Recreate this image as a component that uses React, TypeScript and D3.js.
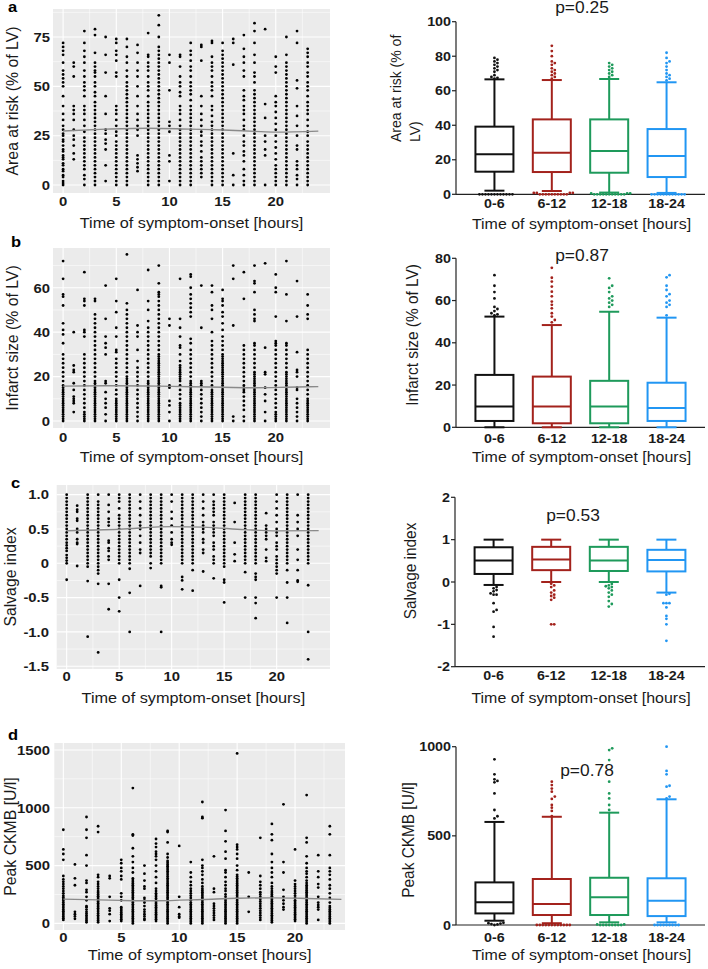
import React from "react";
import * as d3 from "d3";

// ---------------- DATA ----------------
const hours: number[] = [0,1,2,3,4,5,6,7,8,9,10,11,12,13,14,15,16,17,18,19,20,21,22,23];

const areaRiskByHour: number[][] = [
  [0,1,2,4,5,7,8,10,11,13,14,15,17,18,20,22,23,25,26,28,30,33,36,40,45,50,52,54,56,58,62,66,68,70,72],
  [13,16,20,23,25,28,33,36,38,40,55,60,62],
  [0,3,5,8,10,12,14,16,18,20,22,24,27,30,33,36,38,40,45,48,50,52,55,58,62,65,68,72,78],
  [0,2,4,6,8,10,12,14,16,18,20,22,24,26,28,30,32,34,36,38,40,42,45,47,50,52,55,57,58,60,62,67,76,79],
  [2,10,18,21,23,26,28,36,45,57,66,75],
  [0,2,4,6,8,10,12,14,16,18,20,22,25,27,30,33,36,38,40,55,57,63,66,68,72,74],
  [0,2,4,6,8,10,12,14,16,18,20,22,24,26,28,30,32,34,36,38,40,42,44,46,48,50,52,55,58,62,65,70,74],
  [7,9,11,13,15,25,28,30,33,36,40,45,50,55,58,62,67,71],
  [0,2,4,6,8,10,12,14,16,18,20,22,24,26,28,30,32,34,36,38,40,42,45,48,50,52,55,58,60,62,65,66,77],
  [0,2,4,6,8,10,12,14,16,18,20,22,24,26,28,30,32,34,36,38,40,42,44,46,48,50,52,54,56,58,60,62,64,66,68,70,75,81,86],
  [2,12,15,27,30,32,48,62,66],
  [0,2,4,6,8,10,12,14,16,18,20,22,24,26,28,30,33,36,38,40,45,47,50,52,55,60,65,66],
  [0,2,4,6,8,10,12,14,16,18,20,22,24,26,28,30,32,34,36,38,40,43,46,48,50,52,55,58,60,63,66,68,72],
  [4,6,8,10,12,14,17,20,22,25,27,30,33,36,40,45,63,70,71],
  [0,2,4,6,8,10,12,14,16,18,20,22,24,26,28,30,32,35,38,40,45,48,50,52,55,58,60,62,65,72,73],
  [0,2,4,6,8,10,12,14,16,18,20,22,24,26,28,30,32,34,36,38,40,42,44,46,48,50,52,54,56,58,60,62,64,66,68,72],
  [0,5,16,61,72,74],
  [0,2,5,8,12,15,17,20,22,25,28,30,33,36,38,40,43,45,48,55,58,62,65,69,76],
  [0,2,4,6,8,10,12,14,16,18,20,22,24,26,28,30,32,34,36,38,40,42,44,46,48,52,55,57,62,66,72,78,82],
  [0,15,18,22,25,34,41,79],
  [0,2,4,6,8,10,13,16,19,22,25,28,31,34,37,40,42,45,57,60,65],
  [0,2,4,6,8,10,12,14,16,18,20,22,24,26,28,30,32,34,36,38,40,42,44,46,48,50,52,54,56,58,60,62,66,75],
  [0,3,5,8,10,12,18,20,25,30,35,40,49,53,72,78],
  [0,2,4,6,8,10,12,14,16,18,20,22,25,27,30,33,36,38,40,42,45,48,50,52,55,57,60,62,65,67,69],
];

const infarctByHour: number[][] = [
  [0,1,2,3,4,5,6,7,8,9,10,11,12,13,14,15,16,18,20,22,24,26,28,30,35,39,41,44,52,56,57,64,72],
  [4,8,9,10,11,14,17,22,23,25,40],
  [0,1,2,3,4,6,8,10,12,14,16,18,20,22,24,26,28,30,38,40,41,52,54,55,67],
  [0,1,2,3,4,5,6,7,8,9,10,11,12,13,14,15,16,17,18,20,22,24,26,28,30,32,34,36,38,40,42,44,46,48,54,55],
  [0,3,6,8,10,13,17,18,30,33,35,38,46,61],
  [0,1,2,3,4,5,6,7,8,9,10,12,14,16,18,20,22,24,26,28,31,32,38,42,49,54,64],
  [0,1,2,3,4,5,6,7,8,9,10,11,12,13,14,15,16,17,18,19,20,22,24,26,28,30,32,34,36,38,40,42,44,46,48,50,53,75],
  [0,2,4,6,8,10,12,14,16,18,20,22,24,27,32,38,40,43,59],
  [0,1,2,3,4,5,6,7,8,9,10,11,12,13,14,15,16,17,18,20,22,24,26,28,30,32,34,36,38,40,42,45,50,54,68],
  [0,1,2,3,4,5,6,7,8,9,10,11,12,13,14,15,16,17,18,19,20,21,22,23,24,25,26,27,28,29,30,32,34,36,38,40,42,44,46,48,50,52,54,56,57,58,62,70],
  [0,4,7,9,15,16,43,46],
  [0,1,2,3,4,5,6,7,8,10,12,14,16,18,19,20,21,22,23,24,25,27,30,33,34,38,42,46,64],
  [0,1,2,3,4,5,6,7,8,9,10,11,12,13,14,15,16,17,18,20,22,24,26,28,30,32,35,37,47,49,51,53,55,57,60,65,66],
  [0,2,4,6,8,10,12,14,16,17,18,42,61],
  [0,1,2,3,4,5,6,7,8,9,10,11,12,13,14,16,18,20,22,24,26,28,30,32,34,36,40,46,50,52,58,61],
  [0,1,2,3,4,5,6,7,8,9,10,11,12,13,14,15,16,17,18,19,20,21,22,23,24,25,26,27,28,29,30,32,34,36,38,41,44,47,49,52,54,55,59],
  [0,2,43,64,70],
  [0,2,5,7,9,11,13,14,15,16,18,20,22,24,26,28,30,32,34,55,67],
  [0,1,2,3,4,5,6,7,8,9,10,11,12,13,14,15,16,17,18,19,20,21,22,24,26,28,30,32,34,35,45,46,48,50,58,62,63,70],
  [0,4,9,12,15,21,22,33,71],
  [0,1,2,3,4,6,8,10,12,14,16,18,20,22,24,26,28,30,32,34,35,36,47,58,60,66],
  [0,1,2,3,4,5,6,7,8,9,10,11,12,13,14,15,16,17,18,19,20,21,22,24,26,28,30,32,34,35,45,57,72],
  [0,2,4,6,8,10,14,15,20,22,23,31,47,63],
  [0,1,2,3,4,5,6,7,8,9,10,12,14,16,18,20,22,24,26,28,30,32,46,48,52,57],
];

const salvageByHour: number[][] = [
  [-0.24,0,0.04,0.08,0.12,0.18,0.22,0.26,0.3,0.35,0.4,0.45,0.5,0.55,0.6,0.65,0.7,0.75,0.8,0.85,0.9,0.95,1],
  [-0.04,0.28,0.3,0.35,0.45,0.5,0.62,0.65,0.75,0.78,0.84],
  [-1.07,-0.26,-0.05,0,0.05,0.1,0.15,0.2,0.25,0.3,0.35,0.4,0.45,0.5,0.55,0.6,0.65,0.7,0.75,0.8,0.85,0.9,0.95,1],
  [-1.3,-0.3,-0.15,-0.1,-0.05,0,0.05,0.1,0.15,0.2,0.25,0.3,0.35,0.4,0.45,0.5,0.55,0.6,0.65,0.7,0.75,0.8,0.85,0.9,1],
  [-0.67,-0.3,0.05,0.1,0.18,0.22,0.3,0.33,0.55,0.6,0.65,0.75,0.85,1],
  [-0.7,-0.5,-0.24,0,0.05,0.1,0.15,0.2,0.25,0.3,0.35,0.4,0.45,0.5,0.55,0.6,0.65,0.7,0.8,0.9,0.95,1],
  [-1,-0.43,-0.08,0,0.05,0.1,0.15,0.2,0.25,0.3,0.35,0.4,0.45,0.5,0.55,0.6,0.65,0.7,0.75,0.8,0.85,0.9,0.95,1],
  [-0.33,0.15,0.2,0.3,0.4,0.5,0.55,0.6,0.7,0.8,0.9,1],
  [-0.07,0,0.1,0.15,0.2,0.25,0.3,0.35,0.4,0.45,0.5,0.55,0.6,0.65,0.7,0.75,0.8,0.85,0.9,0.95,1],
  [-1,-0.35,-0.33,0,0.05,0.1,0.15,0.2,0.25,0.3,0.35,0.4,0.45,0.5,0.55,0.6,0.65,0.7,0.75,0.8,0.85,0.9,0.95,1],
  [0.27,0.3,0.35,0.45,0.55,0.65,0.75,0.9,1],
  [-0.38,-0.25,-0.2,0,0.05,0.1,0.15,0.2,0.25,0.3,0.35,0.4,0.45,0.5,0.55,0.6,0.65,0.7,0.75,0.8,0.85,0.9,0.95,1],
  [-0.4,-0.1,0,0.05,0.1,0.15,0.2,0.25,0.3,0.35,0.4,0.45,0.5,0.55,0.6,0.65,0.7,0.75,0.8,0.85,0.9,0.95,1],
  [-0.12,0.15,0.2,0.3,0.35,0.45,0.5,0.55,0.6,0.7,0.8,0.9,1],
  [-0.22,0,0.05,0.1,0.2,0.25,0.3,0.4,0.45,0.5,0.55,0.6,0.7,0.75,0.8,0.85,0.9,1],
  [-0.57,-0.28,-0.24,-0.05,0,0.05,0.1,0.15,0.2,0.25,0.3,0.35,0.4,0.45,0.5,0.55,0.6,0.65,0.7,0.75,0.8,0.85,0.9,0.95,1],
  [0.03,0.13,0.3,0.6,0.88],
  [-0.5,-0.13,0,0.05,0.1,0.15,0.2,0.25,0.3,0.35,0.4,0.45,0.5,0.55,0.6,0.65,0.7,0.75,0.8,0.85,0.9,0.95,1],
  [-0.8,-0.58,-0.5,-0.24,-0.2,-0.15,0,0.05,0.1,0.15,0.2,0.25,0.3,0.35,0.4,0.45,0.5,0.55,0.6,0.65,0.7,0.75,0.8,0.85,0.9,0.95,1],
  [0.03,0.08,0.2,0.35,0.4,0.45,0.5,0.55,0.73],
  [-0.5,-0.15,-0.1,-0.05,0,0.05,0.1,0.2,0.25,0.3,0.4,0.45,0.5,0.6,0.7,0.8,0.9,1],
  [-0.87,-0.5,-0.28,-0.1,0,0.05,0.1,0.15,0.2,0.25,0.3,0.35,0.4,0.45,0.5,0.55,0.6,0.65,0.7,0.75,0.8,0.85,0.9,0.95,1],
  [-0.27,-0.25,-0.1,0.05,0.2,0.4,0.5,0.6,0.7,1],
  [-1.4,-1,-0.32,0,0.05,0.1,0.15,0.2,0.25,0.3,0.35,0.4,0.45,0.5,0.55,0.6,0.65,0.7,0.75,0.8,0.85,0.9,0.95,1],
];

const ckmbByHour: number[][] = [
  [30,45,60,75,90,105,120,135,150,165,180,195,210,225,240,260,280,300,320,340,360,380,410,550,600,640,810],
  [40,60,80,100,330,390,510],
  [10,25,40,55,70,85,100,120,140,150,200,230,270,290,350,370,500,590,740,810,920],
  [10,25,40,55,70,85,100,115,130,145,160,175,190,205,220,235,250,265,280,300,320,340,360,400,420,790,840],
  [20,80,110,130,230,390,410],
  [20,35,50,65,80,95,110,125,140,200,230,260,380,410,450,480,520,550],
  [0,15,30,45,60,75,90,105,120,135,150,165,180,195,210,225,240,255,270,285,300,315,330,345,360,375,390,440,480,530,580,650,760,770,1170],
  [30,40,60,80,100,120,150,180,200,220,300,320,370,430,500],
  [20,35,50,65,80,95,110,125,140,155,170,185,200,215,230,245,260,280,300,350,400,450,500,550,580,600,620,660,690,730],
  [0,15,30,45,60,75,90,105,120,135,150,165,180,195,210,225,240,255,270,285,300,315,330,345,360,375,390,405,420,435,450,465,480,495,510,525,540,570,600,700,790,800],
  [50,60,80,140,230,670],
  [0,15,30,45,60,75,90,105,120,135,150,165,180,200,220,240,260,280,300,330,360,400,440,530],
  [0,15,30,45,60,75,90,105,120,135,150,165,180,195,210,225,240,255,270,285,300,320,350,380,420,450,480,500,550,910,920,1050],
  [30,50,70,90,110,130,150,170,270,300,580],
  [0,15,30,45,60,75,90,105,120,135,150,165,180,195,210,230,250,280,300,330,360,400,440,460,560,620,710,800,980],
  [0,15,30,45,60,75,90,105,120,135,150,165,180,195,210,225,240,255,270,285,300,315,330,345,360,375,390,405,420,460,500,560,600,640,660,680,1470],
  [100,230,440],
  [30,50,70,90,110,130,150,170,190,210,230,250,270,300,330,360,410,740],
  [10,25,40,55,70,85,100,115,130,145,160,175,190,205,220,235,250,265,280,300,320,350,400,440,480,530,600,720,770,860],
  [120,140,170,200,230,290,440,530,1030],
  [20,35,50,65,80,95,110,125,140,155,170,185,200,220,240,260,280,300,320,340,370,640],
  [0,15,30,45,60,75,90,105,120,135,150,165,180,195,210,225,240,255,270,285,300,315,330,350,370,400,430,450,480,520,580,700,740,1110],
  [30,120,140,160,180,230,310,340,400,450,590],
  [0,15,30,45,60,75,90,105,120,135,150,180,220,260,300,330,380,420,450,480,590,770,840],
];

// smoothed (loess) fits: [hour, value]
const areaRiskFit: [number, number][] = [[0,27.4],[4,28.3],[8,28.8],[12,28.3],[15,27.9],[18,27.2],[20,26.8],[24,27.3]];
const infarctFit: [number, number][] = [[0,15.7],[5,15.9],[9,15.7],[12,15.4],[15,15.2],[18,15.0],[21,15.2],[24,15.5]];
const salvageFit: [number, number][] = [[0,0.475],[5,0.495],[10,0.535],[13,0.527],[17,0.49],[20,0.472],[24,0.476]];
const ckmbFit: [number, number][] = [[0,210],[5,199],[8,196],[12,207],[15,218],[18,221],[21,216],[24,208]];

// box plot groups
const groups: string[] = ["0-6", "6-12", "12-18", "18-24"];
const groupColors: string[] = ["#111111", "#A3221C", "#1E9A5B", "#2196F3"];

const areaQ1 = [13.1, 12.9, 12.5, 10];
const areaMed = [23.2, 24.1, 25.1, 22.2];
const areaQ3 = [39.2, 43.4, 43.4, 37.8];
const areaWLo = [2.1, 1.9, 1.0, 0.8];
const areaWHi = [66.6, 66.2, 66.8, 64.9];
const areaOut: number[][] = [
  [67,67.5,68,69,71,72,73,74,75,76,77,78,79, 0,0,0,0,0,0,0,0,0,0,0,0],
  [67,68,69,70,71,72,73,75,76,77,80,83,86, 0,0,0,0,0,0,0,0,0,0,0.8,0.8,0.8,0.8],
  [68,69,70,71,72,73,74,75,76, 0,0,0,0,0,0,0,0,0,0,0,0.5,0.5,0.5],
  [66,67,68,69,70,72,74,76,77,79,82, 0,0,0,0,0,0,0,0,0,0,0,0],
];

const infQ1 = [3, 1.9, 1.9, 3];
const infMed = [9.9, 9.9, 9.9, 9.1];
const infQ3 = [24.8, 24, 22, 21.1];
const infWLo = [0, 0, 0, 0];
const infWHi = [52.4, 48.4, 54.7, 51.9];
const infOut: number[][] = [
  [53,53.5,54,55,56,57,61,64,67,72],
  [49.7,50.8,52.4,54,56.3,58,59.5,62,64.2,66.6,69,70.8,75.5],
  [57,58,59,60,61,62,64,66,67,70.5],
  [53,57,58,59,60,62,63,65,67,71,72],
];

const salQ1 = [0.19, 0.28, 0.26, 0.25];
const salMed = [0.51, 0.53, 0.51, 0.52];
const salQ3 = [0.82, 0.83, 0.83, 0.76];
const salWLo = [-0.07, 0.0, 0.0, -0.25];
const salWHi = [1, 1, 1, 1];
const salOut: number[][] = [
  [-0.12,-0.15,-0.19,-0.22,-0.27,-0.3,-0.3,-0.5,-0.66,-0.7,-1.06,-1.29],
  [-0.04,-0.08,-0.12,-0.2,-0.25,-0.3,-0.33,-0.37,-0.42,-1,-1],
  [-0.05,-0.08,-0.1,-0.12,-0.15,-0.2,-0.25,-0.3,-0.35,-0.45,-0.52,-0.58],
  [-0.28,-0.3,-0.5,-0.5,-0.5,-0.6,-0.8,-0.87,-1,-1.39],
];

const ckQ1 = [65, 56, 56, 50];
const ckMed = [127, 118, 155, 136];
const ckQ3 = [239, 258, 265, 262];
const ckWLo = [24, 10, 15, 15];
const ckWHi = [578, 607, 630, 705];
const ckOut: number[][] = [
  [598,610,645,738,800,808,817,845,929, 0,3,5,8,10,12],
  [610,640,658,673,707,720,748,765,785,804, 0,0,0,0,0,0,0,0,0,0,0,0],
  [645,673,710,738,804,925,981,991, 0,0,0,0,0,0,0,0,3,3],
  [710,720,776,781,845,864,1000, 0,0,0,0,0,0,0,0,0],
];

const pValues: string[] = ["p=0.25", "p=0.87", "p=0.53", "p=0.78"];
const panelLetters: string[] = ["a", "b", "c", "d"];

// ---------------- HELPERS ----------------
const FONT = "'Liberation Sans', Arial, Helvetica, sans-serif";
const SX = 1.1;

function HText(props: { x: number; y: number; anchor?: string; size: number; weight?: any; fill?: string; children: any }) {
  const { x, y, anchor = "middle", size, weight = "normal", fill = "#1a1a1a", children } = props;
  return (
    <text transform={`translate(${x},${y}) scale(${SX},1)`} textAnchor={anchor as any} fontSize={size} fontWeight={weight} fontFamily={FONT} fill={fill}>
      {children}
    </text>
  );
}

function VText(props: { x: number; y: number; anchor?: string; size: number; children: any }) {
  const { x, y, anchor = "middle", size, children } = props;
  return (
    <text transform={`translate(${x},${y}) scale(${SX},1) rotate(-90)`} textAnchor={anchor as any} dominantBaseline="central" fontSize={size} fontFamily={FONT} fill="#1a1a1a">
      {children}
    </text>
  );
}

type ScatterCfg = {
  data: number[][];
  fit: [number, number][];
  x0: number; x1: number; y0: number; y1: number;
  xDom: [number, number]; yDom: [number, number];
  yTicks: number[]; yTickLabels: string[]; yMinor: number[];
  xTicks: number[]; xMinor: number[];
  labelRight: number; xLabelBase: number; titleBase: number;
  yTitle: string; yTitleX: number;
  letter: string; letterX: number; letterY: number;
};

function Scatter({ c }: { c: ScatterCfg }) {
  const x = d3.scaleLinear().domain(c.xDom).range([c.x0, c.x1]);
  const y = d3.scaleLinear().domain(c.yDom).range([c.y1, c.y0]);
  const line = d3.line<[number, number]>().x((d) => x(d[0])).y((d) => y(d[1])).curve(d3.curveMonotoneX);
  return (
    <g>
      <rect x={c.x0} y={c.y0} width={c.x1 - c.x0} height={c.y1 - c.y0} fill="#EBEBEB" />
      {c.yMinor.map((v) => (
        <line key={"ym" + v} x1={c.x0} x2={c.x1} y1={y(v)} y2={y(v)} stroke="#fff" strokeWidth={0.55} />
      ))}
      {c.xMinor.map((v) => (
        <line key={"xm" + v} y1={c.y0} y2={c.y1} x1={x(v)} x2={x(v)} stroke="#fff" strokeWidth={0.55} />
      ))}
      {c.yTicks.map((v) => (
        <line key={"yM" + v} x1={c.x0} x2={c.x1} y1={y(v)} y2={y(v)} stroke="#fff" strokeWidth={1.1} />
      ))}
      {c.xTicks.map((v) => (
        <line key={"xM" + v} y1={c.y0} y2={c.y1} x1={x(v)} x2={x(v)} stroke="#fff" strokeWidth={1.1} />
      ))}
      {c.data.map((col, i) =>
        col.map((v, j) => <circle key={i + "_" + j} cx={x(hours[i])} cy={y(v)} r={1.4} fill="#000" />)
      )}
      <path d={line(c.fit) || ""} fill="none" stroke="#8a8a8a" strokeWidth={1.4} />
      {c.yTicks.map((v, i) => (
        <HText key={"yl" + v} x={c.labelRight} y={y(v) + 4.8} anchor="end" size={13.5} weight="bold">
          {c.yTickLabels[i]}
        </HText>
      ))}
      {c.xTicks.map((v) => (
        <HText key={"xl" + v} x={x(v)} y={c.xLabelBase} size={13.5} weight="bold">
          {String(v)}
        </HText>
      ))}
      <HText x={(c.x0 + c.x1) / 2} y={c.titleBase} size={14.8}>Time of symptom-onset [hours]</HText>
      <VText x={c.yTitleX} y={(c.y0 + c.y1) / 2} size={15.8}>{c.yTitle}</VText>
      <HText x={c.letterX} y={c.letterY} anchor="start" size={15} weight="bold" fill="#000">{c.letter}</HText>
    </g>
  );
}

type BoxCfg = {
  q1: number[]; med: number[]; q3: number[]; wlo: number[]; whi: number[]; out: number[][];
  axisX: number; axisRight: number; yMinPx: number; yMaxPx: number;
  yDom: [number, number]; yTicks: number[];
  catBase: number; titleBase: number;
  titleLines: string[]; titleXs: number[]; titleY: number; titleAnchor: string; titleSize: number;
  p: string; pX: number; pY: number;
};

function swarm(vals: number[], yS: (v: number) => number) {
  const placed: { dx: number; py: number }[] = [];
  const sorted = [...vals].sort((a, b) => a - b);
  const step = 3;
  for (const v of sorted) {
    const py = yS(v);
    let k = 0;
    for (;;) {
      const dx = k === 0 ? 0 : (k % 2 === 1 ? 1 : -1) * Math.ceil(k / 2) * step;
      const clash = placed.some((p) => Math.abs(p.dx - dx) < step - 0.2 && Math.abs(p.py - py) < 2.6);
      if (!clash) {
        placed.push({ dx, py });
        break;
      }
      k++;
    }
  }
  return placed;
}

function BoxPanel({ c }: { c: BoxCfg }) {
  const y = d3.scaleLinear().domain(c.yDom).range([c.yMinPx, c.yMaxPx]);
  const xb = d3.scalePoint<string>().domain(groups).range([c.axisX, c.axisRight]).padding(0.67);
  const bw = 38;
  const cap = 20;
  return (
    <g>
      <line x1={c.axisX} x2={c.axisX} y1={c.yMaxPx} y2={c.yMinPx} stroke="#222" strokeWidth={1.2} />
      <line x1={c.axisX} x2={c.axisRight} y1={c.yMinPx} y2={c.yMinPx} stroke="#222" strokeWidth={1.2} />
      {c.yTicks.map((v) => (
        <g key={"t" + v}>
          <line x1={c.axisX - 4} x2={c.axisX} y1={y(v)} y2={y(v)} stroke="#222" strokeWidth={1.2} />
          <HText x={c.axisX - 5} y={y(v) + 4.6} anchor="end" size={13} weight="bold">{String(v)}</HText>
        </g>
      ))}
      {groups.map((g, i) => {
        const cx = xb(g) as number;
        const col = groupColors[i];
        const pts = swarm(c.out[i], y);
        return (
          <g key={g}>
            <line x1={cx} x2={cx} y1={y(c.q3[i])} y2={y(c.whi[i])} stroke={col} strokeWidth={2} />
            <line x1={cx} x2={cx} y1={y(c.q1[i])} y2={y(c.wlo[i])} stroke={col} strokeWidth={2} />
            <line x1={cx - cap / 2} x2={cx + cap / 2} y1={y(c.whi[i])} y2={y(c.whi[i])} stroke={col} strokeWidth={2} />
            <line x1={cx - cap / 2} x2={cx + cap / 2} y1={y(c.wlo[i])} y2={y(c.wlo[i])} stroke={col} strokeWidth={2} />
            <rect x={cx - bw / 2} y={y(c.q3[i])} width={bw} height={y(c.q1[i]) - y(c.q3[i])} fill="none" stroke={col} strokeWidth={2} />
            <line x1={cx - bw / 2} x2={cx + bw / 2} y1={y(c.med[i])} y2={y(c.med[i])} stroke={col} strokeWidth={2} />
            {pts.map((p, j) => (
              <circle key={j} cx={cx + p.dx} cy={p.py} r={1.4} fill={col} />
            ))}
            <HText x={cx} y={c.catBase} size={13} weight="bold">{g}</HText>
          </g>
        );
      })}
      <HText x={(c.axisX + c.axisRight) / 2 + 1} y={c.titleBase} size={14.5}>Time of symptom-onset [hours]</HText>
      {c.titleLines.map((t, i) => (
        <VText key={i} x={c.titleXs[i]} y={c.titleY} anchor={c.titleAnchor} size={c.titleSize}>{t}</VText>
      ))}
      <HText x={c.pX} y={c.pY} size={15.8}>{c.p}</HText>
    </g>
  );
}

// ---------------- LAYOUT ----------------
const xMajor = [0, 5, 10, 15, 20];
const xMinorT = [2.5, 7.5, 12.5, 17.5, 22.5];

const scatterCfgs: ScatterCfg[] = [
  {
    data: areaRiskByHour, fit: areaRiskFit,
    x0: 53, x1: 330, y0: 9, y1: 193, xDom: [-0.95, 25.1], yDom: [-4.05, 89.2],
    yTicks: [0, 25, 50, 75], yTickLabels: ["0", "25", "50", "75"], yMinor: [12.5, 37.5, 62.5, 87.5],
    xTicks: xMajor, xMinor: xMinorT, labelRight: 50, xLabelBase: 206, titleBase: 228,
    yTitle: "Area at risk (% of LV)", yTitleX: 12, letter: panelLetters[0], letterX: 8, letterY: 12,
  },
  {
    data: infarctByHour, fit: infarctFit,
    x0: 53, x1: 330, y0: 248, y1: 428, xDom: [-0.95, 25.1], yDom: [-3.15, 77.9],
    yTicks: [0, 20, 40, 60], yTickLabels: ["0", "20", "40", "60"], yMinor: [10, 30, 50, 70],
    xTicks: xMajor, xMinor: xMinorT, labelRight: 50, xLabelBase: 442, titleBase: 462,
    yTitle: "Infarct size (% of LV)", yTitleX: 12, letter: panelLetters[1], letterX: 11, letterY: 247,
  },
  {
    data: salvageByHour, fit: salvageFit,
    x0: 56.7, x1: 330, y0: 485, y1: 669, xDom: [-0.95, 25.08], yDom: [-1.541, 1.141],
    yTicks: [-1.5, -1, -0.5, 0, 0.5, 1], yTickLabels: ["-1.5", "-1.0", "-0.5", "0", "0.5", "1.0"], yMinor: [-1.25, -0.75, -0.25, 0.25, 0.75],
    xTicks: xMajor, xMinor: xMinorT, labelRight: 49, xLabelBase: 681, titleBase: 703,
    yTitle: "Salvage index", yTitleX: 10.5, letter: panelLetters[2], letterX: 11, letterY: 488,
  },
  {
    data: ckmbByHour, fit: ckmbFit,
    x0: 54.3, x1: 345, y0: 743, y1: 930, xDom: [-0.78, 24.31], yDom: [-57, 1560],
    yTicks: [0, 500, 1000, 1500], yTickLabels: ["0", "500", "1000", "1500"], yMinor: [250, 750, 1250],
    xTicks: xMajor, xMinor: xMinorT, labelRight: 50, xLabelBase: 942, titleBase: 960,
    yTitle: "Peak CKMB [U/l]", yTitleX: 10.5, letter: panelLetters[3], letterX: 8, letterY: 740,
  },
];

const boxCfgs: BoxCfg[] = [
  {
    q1: areaQ1, med: areaMed, q3: areaQ3, wlo: areaWLo, whi: areaWHi, out: areaOut,
    axisX: 456, axisRight: 705, yMinPx: 194.3, yMaxPx: 21.7, yDom: [0, 100], yTicks: [0, 20, 40, 60, 80, 100],
    catBase: 208, titleBase: 229,
    titleLines: ["Area at risk (% of", "LV)"], titleXs: [396, 415], titleY: 142, titleAnchor: "start", titleSize: 14,
    p: pValues[0], pX: 582, pY: 13,
  },
  {
    q1: infQ1, med: infMed, q3: infQ3, wlo: infWLo, whi: infWHi, out: infOut,
    axisX: 456, axisRight: 705, yMinPx: 427.3, yMaxPx: 258.3, yDom: [0, 80], yTicks: [0, 20, 40, 60, 80],
    catBase: 443, titleBase: 462,
    titleLines: ["Infarct size (% of LV)"], titleXs: [411.5], titleY: 335, titleAnchor: "middle", titleSize: 15.4,
    p: pValues[1], pX: 582, pY: 260.5,
  },
  {
    q1: salQ1, med: salMed, q3: salQ3, wlo: salWLo, whi: salWHi, out: salOut,
    axisX: 455, axisRight: 705, yMinPx: 666.7, yMaxPx: 497.3, yDom: [-2, 2], yTicks: [-2, -1, 0, 1, 2],
    catBase: 680, titleBase: 703,
    titleLines: ["Salvage index"], titleXs: [410], titleY: 571, titleAnchor: "middle", titleSize: 15.4,
    p: pValues[2], pX: 573, pY: 520.5,
  },
  {
    q1: ckQ1, med: ckMed, q3: ckQ3, wlo: ckWLo, whi: ckWHi, out: ckOut,
    axisX: 456, axisRight: 705, yMinPx: 925, yMaxPx: 746.7, yDom: [0, 1000], yTicks: [0, 500, 1000],
    catBase: 942, titleBase: 960,
    titleLines: ["Peak CKMB [U/l]"], titleXs: [408], titleY: 840, titleAnchor: "middle", titleSize: 15.4,
    p: pValues[3], pX: 587, pY: 775.5,
  },
];

export default function App() {
  return (
    <svg width={708} height={969} viewBox="0 0 708 969" style={{ position: "absolute", left: 0, top: 0, background: "#fff" }}>
      <rect x={0} y={0} width={708} height={969} fill="#fff" />
      {scatterCfgs.map((c, i) => (
        <Scatter key={"s" + i} c={c} />
      ))}
      {boxCfgs.map((c, i) => (
        <BoxPanel key={"b" + i} c={c} />
      ))}
    </svg>
  );
}
